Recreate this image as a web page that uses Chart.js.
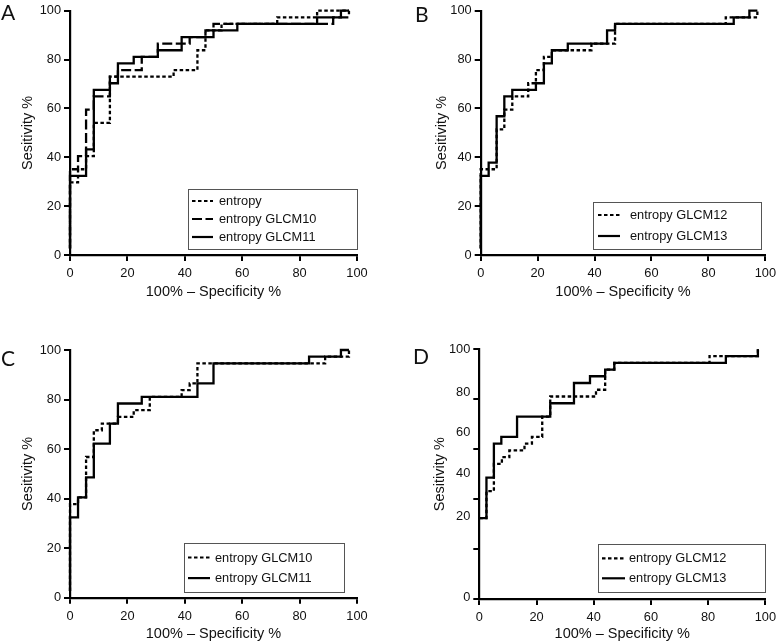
<!DOCTYPE html>
<html><head><meta charset="utf-8">
<script src="https://cdn.jsdelivr.net/npm/chart.js@4"></script>
<style>
html,body{margin:0;padding:0;background:#fff;}
#wrap{position:relative;width:781px;height:644px;overflow:hidden;background:#fff;}
canvas{position:absolute;}
.lbl{position:absolute;font-family:"Lato","Open Sans",sans-serif;font-size:21px;line-height:21px;color:#111;}
</style></head><body>
<div id="wrap">
<canvas id="cA" width="390" height="318" style="left:0px;top:0px;width:390px;height:318px"></canvas>
<canvas id="cB" width="391" height="318" style="left:390px;top:0px;width:391px;height:318px"></canvas>
<canvas id="cC" width="390" height="324" style="left:0px;top:320px;width:390px;height:324px"></canvas>
<canvas id="cD" width="391" height="324" style="left:390px;top:320px;width:391px;height:324px"></canvas>
<div class="lbl" style="left:1px;top:1px">A</div>
<div class="lbl" style="left:415px;top:3px">B</div>
<div class="lbl" style="left:1px;top:347px">C</div>
<div class="lbl" style="left:413px;top:345px">D</div>
</div>
<script>
// ---------- data ----------
const xTicks = [0, 20, 40, 60, 80, 100];
const yTicks = [0, 20, 40, 60, 80, 100];
const xTitle = '100% \u2013 Specificity %';
const yTitle = 'Sesitivity %';

// Panel A
const aLabels = ['entropy', 'entropy GLCM10', 'entropy GLCM11'];
const aEntropyX = [0, 0, 2.8, 5.6, 8.3, 13.9, 36.1, 44.4, 47.2, 52.8, 72.2, 86.1, 97.2];
const aEntropyY = [2.7, 29.7, 35.1, 40.5, 54.1, 73.0, 75.7, 83.8, 91.9, 94.6, 97.3, 100, 100];
const aGlcm10X = [0, 0, 2.8, 5.6, 8.3, 13.9, 16.7, 25.0, 30.6, 41.7, 47.2, 50.0, 91.7, 97.2];
const aGlcm10Y = [2.7, 35.1, 40.5, 59.5, 64.9, 73.0, 75.7, 81.1, 86.5, 89.2, 91.9, 94.6, 97.3, 100];
const aGlcm11X = [0, 0, 5.6, 8.3, 13.9, 16.7, 22.2, 30.6, 38.9, 50.0, 58.3, 86.1, 94.4, 97.2];
const aGlcm11Y = [2.7, 32.4, 43.2, 67.6, 70.3, 78.4, 81.1, 83.8, 89.2, 91.9, 94.6, 97.3, 100, 100];

// Panel B
const bLabels = ['entropy GLCM12', 'entropy GLCM13'];
const bGlcm12X = [0, 0, 5.6, 8.3, 11.1, 16.7, 19.4, 22.2, 25.0, 38.9, 47.2, 86.1, 97.2];
const bGlcm12Y = [2.7, 35.1, 51.4, 59.5, 64.9, 70.3, 75.7, 81.1, 83.8, 86.5, 94.6, 97.3, 100];
const bGlcm13X = [0, 0, 2.8, 5.6, 8.3, 11.1, 19.4, 22.2, 25.0, 30.6, 44.4, 47.2, 88.9, 94.4, 97.2];
const bGlcm13Y = [2.7, 32.4, 37.8, 56.8, 64.9, 67.6, 70.3, 78.4, 83.8, 86.5, 91.9, 94.6, 97.3, 100, 100];

// Panel C
const cLabels = ['entropy GLCM10', 'entropy GLCM11'];
const cGlcm10X = [0, 0, 2.8, 5.6, 8.3, 11.1, 16.7, 22.2, 27.8, 38.9, 41.7, 44.4, 88.9, 97.2];
const cGlcm10Y = [2.7, 37.8, 40.5, 56.8, 67.6, 70.3, 73.0, 75.7, 81.1, 83.8, 86.5, 94.6, 97.3, 100];
const cGlcm11X = [0, 0, 2.8, 5.6, 8.3, 13.9, 16.7, 25.0, 44.4, 50.0, 83.3, 94.4, 97.2];
const cGlcm11Y = [2.7, 32.4, 40.5, 48.6, 62.2, 70.3, 78.4, 81.1, 86.5, 94.6, 97.3, 100, 100];

// Panel D
const dLabels = ['entropy GLCM12', 'entropy GLCM13'];
const dGlcm12X = [0, 2.5, 5.1, 7.9, 10.5, 15.8, 18.4, 22.0, 24.8, 40.8, 44.0, 47.2, 80.5, 97.4];
const dGlcm12Y = [32.4, 43.2, 54.1, 56.8, 59.5, 62.2, 64.9, 73.0, 81.1, 83.8, 91.9, 94.6, 97.3, 100];
const dGlcm13X = [0, 2.5, 5.1, 7.7, 13.2, 24.8, 33.1, 38.7, 44.0, 47.2, 86.2, 97.4];
const dGlcm13Y = [32.4, 48.6, 62.2, 64.9, 73.0, 78.4, 86.5, 89.2, 91.9, 94.6, 97.3, 100];
// Panel D's y tick labels sit off their tick marks in the original figure
const dYLabelAt = [0.7, 33.2, 50.1, 66.6, 82.6, 100];
const dYLabelText = ['0', '20', '40', '60', '80', '100'];

// ---------- styling ----------
const FONT = '"Liberation Sans", Arial, sans-serif';
const DOT = [3.5, 2.5];
const LONGDASH = [10, 3.5];
const SOLID = [];

function pts(xs, ys) { return xs.map((x, i) => ({ x: x, y: ys[i] })); }

const boxLegend = {
  id: 'boxLegend',
  afterDraw(chart, args, o) {
    const ctx = chart.ctx;
    ctx.save();
    ctx.lineWidth = 1;
    ctx.strokeStyle = '#555';
    ctx.strokeRect(Math.round(o.x) + 0.5, Math.round(o.y) + 0.5, Math.round(o.w), Math.round(o.h));
    ctx.font = '12.8px ' + FONT;
    ctx.textBaseline = 'middle';
    ctx.fillStyle = '#111';
    chart.data.datasets.forEach((ds, i) => {
      const yy = o.y + o.first + i * o.step;
      ctx.beginPath();
      ctx.setLineDash(ds.borderDash || []);
      ctx.lineWidth = 2.2;
      ctx.strokeStyle = '#000';
      ctx.moveTo(o.sx, yy);
      ctx.lineTo(o.sx + o.sw, yy);
      ctx.stroke();
      ctx.setLineDash([]);
      ctx.fillText(ds.label, o.tx, yy + 0.5);
    });
    ctx.restore();
  }
};

function makePanel(p) {
  const datasets = p.sets.map(s => ({
    label: s.label,
    data: pts(s.x, s.y),
    borderColor: '#000',
    borderWidth: 2.3,
    borderDash: s.dash,
    pointRadius: 0,
    stepped: 'before',
    fill: false,
    clip: false
  }));
  const yScale = {
    type: 'linear', min: 0, max: 100,
    afterFit: s => { s.width = p.yWidth; },
    afterBuildTicks: s => {
      if (p.yLabelAt) {
        const vals = Array.from(new Set(yTicks.concat(p.yLabelAt))).sort((a, b) => a - b);
        s.ticks = vals.map(v => ({ value: v }));
      } else {
        s.ticks = yTicks.map(v => ({ value: v }));
      }
    },
    ticks: {
      autoSkip: false, padding: 3, color: '#111',
      font: { family: FONT, size: 12.8 },
      callback: (v) => {
        if (p.yLabelAt) {
          const k = p.yLabelAt.indexOf(v);
          return k >= 0 ? p.yLabelText[k] : '';
        }
        return String(v);
      }
    },
    grid: {
      drawOnChartArea: false, drawTicks: true, tickLength: 6, lineWidth: 2,
      color: '#000',
      tickColor: (c) => (c.tick && yTicks.indexOf(c.tick.value) >= 0) ? '#000' : 'rgba(0,0,0,0)'
    },
    border: { display: true, width: 2.2, color: '#000' },
    title: { display: true, text: yTitle, color: '#111', font: { family: FONT, size: 14.5 }, padding: { top: p.yTitlePad, bottom: 0 } }
  };
  const xScale = {
    type: 'linear', min: 0, max: 100, position: 'bottom',
    afterFit: s => { s.height = p.xH; },
    afterBuildTicks: s => { s.ticks = xTicks.map(v => ({ value: v })); },
    ticks: { autoSkip: false, padding: 5, color: '#111', font: { family: FONT, size: 12.8 }, maxRotation: 0 },
    grid: { drawOnChartArea: false, drawTicks: true, tickLength: 6, lineWidth: 2, color: '#000' },
    border: { display: true, width: 2.2, color: '#000' },
    title: { display: true, text: xTitle, color: '#111', font: { family: FONT, size: 14.5 }, padding: { top: 0, bottom: p.xTitlePad } }
  };
  new Chart(document.getElementById(p.id), {
    type: 'line',
    data: { datasets: datasets },
    plugins: [boxLegend],
    options: {
      responsive: false, animation: false, devicePixelRatio: 1,
      layout: { padding: p.pad },
      plugins: { legend: { display: false }, tooltip: { enabled: false }, boxLegend: p.legend },
      scales: { x: xScale, y: yScale }
    }
  });
}

makePanel({
  id: 'cA', yWidth: 70, xH: 63, yTitlePad: 19.3, xTitlePad: 17.3,
  pad: { top: 8, right: 33, bottom: 0, left: 0 },
  sets: [
    { label: aLabels[0], x: aEntropyX, y: aEntropyY, dash: DOT },
    { label: aLabels[1], x: aGlcm10X, y: aGlcm10Y, dash: LONGDASH },
    { label: aLabels[2], x: aGlcm11X, y: aGlcm11Y, dash: SOLID }
  ],
  legend: { x: 188, y: 189, w: 169, h: 60, first: 12, step: 18, sx: 192, sw: 21, tx: 219 }
});
makePanel({
  id: 'cB', yWidth: 90.7, xH: 63, yTitlePad: 43, xTitlePad: 17.6,
  pad: { top: 8, right: 13.3, bottom: 0, left: 0 },
  sets: [
    { label: bLabels[0], x: bGlcm12X, y: bGlcm12Y, dash: DOT },
    { label: bLabels[1], x: bGlcm13X, y: bGlcm13Y, dash: SOLID }
  ],
  legend: { x: 203, y: 201.5, w: 168, h: 47, first: 13.5, step: 21, sx: 208, sw: 22, tx: 240 }
});
makePanel({
  id: 'cC', yWidth: 70, xH: 46.3, yTitlePad: 19.3, xTitlePad: 1,
  pad: { top: 30, right: 33, bottom: 0, left: 0 },
  sets: [
    { label: cLabels[0], x: cGlcm10X, y: cGlcm10Y, dash: DOT },
    { label: cLabels[1], x: cGlcm11X, y: cGlcm11Y, dash: SOLID }
  ],
  legend: { x: 184, y: 222.5, w: 160, h: 49, first: 15, step: 20.6, sx: 188, sw: 22, tx: 215 }
});
makePanel({
  id: 'cD', yWidth: 89.3, xH: 45, yTitlePad: 41.3, xTitlePad: 1,
  pad: { top: 29.3, right: 11, bottom: 0, left: 0 },
  yLabelAt: dYLabelAt, yLabelText: dYLabelText,
  sets: [
    { label: dLabels[0], x: dGlcm12X, y: dGlcm12Y, dash: DOT },
    { label: dLabels[1], x: dGlcm13X, y: dGlcm13Y, dash: SOLID }
  ],
  legend: { x: 208, y: 224, w: 167, h: 48, first: 14.3, step: 20, sx: 212, sw: 23, tx: 239 }
});
</script>
</body></html>
